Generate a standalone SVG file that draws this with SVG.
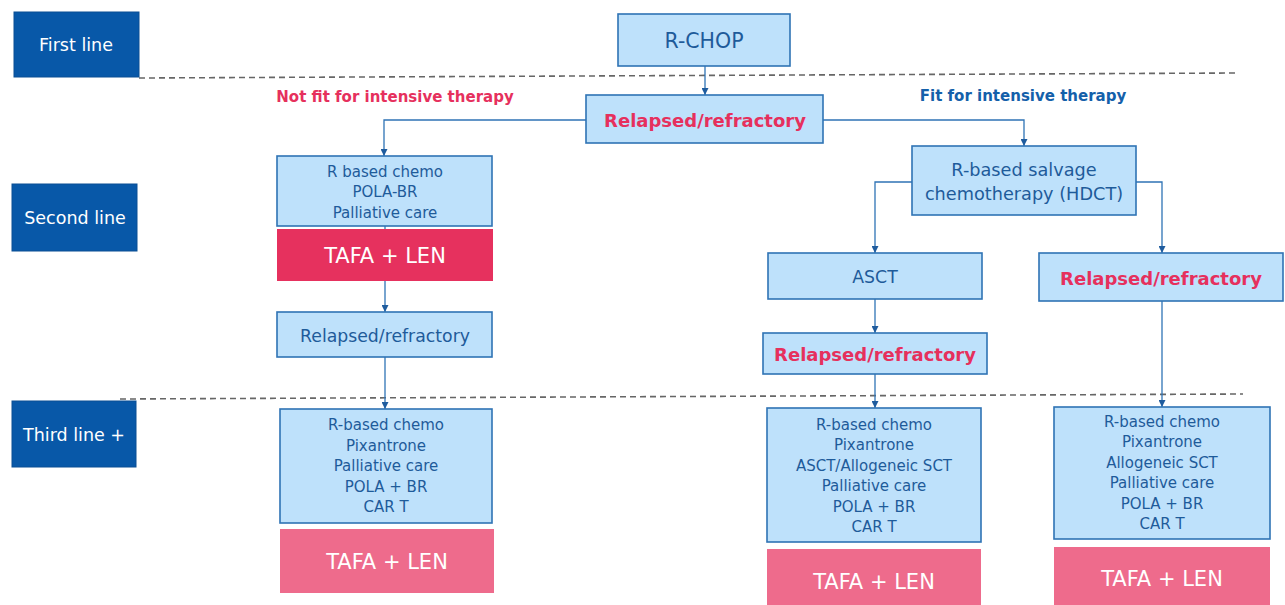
<svg xmlns="http://www.w3.org/2000/svg" width="1285" height="605" viewBox="0 0 1285 605">
<defs>
<style>
text{font-family:"DejaVu Sans","Verdana",sans-serif;text-anchor:middle;dominant-baseline:central}
.lbl rect{fill:#0858A8;stroke:#0A4F94;stroke-width:1}
.lbl text{fill:#fff;font-size:17.5px}
.bx{fill:#BEE1FB;stroke:#2F73B5;stroke-width:1.6}
.bt{fill:#1E5B9A;font-size:15px}
.pk{fill:#E6305D;font-weight:bold;font-size:18px}
.tafa1{fill:#E6315E}
.tafa2{fill:#EE6B8C}
.tt{fill:#fff;font-size:21px}
.cn{fill:none;stroke:#2F73B5;stroke-width:1.3}
.dash{stroke:#666;stroke-width:1.6;stroke-dasharray:6 4;fill:none}
</style>
<marker id="ah" viewBox="0 0 10 10" refX="10" refY="5" markerWidth="7" markerHeight="7" markerUnits="userSpaceOnUse" orient="auto">
<path d="M0,0 L10,5 L0,10 z" fill="#1F5C9E"/>
</marker>
</defs>
<rect width="1285" height="605" fill="#fff"/>

<g id="dividers">
<line class="dash" x1="139" y1="78" x2="1238" y2="73"/>
<line class="dash" x1="120" y1="399" x2="1243" y2="394"/>
</g>

<g id="connectors">
<path class="cn" d="M705,66 V95" marker-end="url(#ah)"/>
<path class="cn" d="M586,120 H384 V156" marker-end="url(#ah)"/>
<path class="cn" d="M823,120 H1024 V146" marker-end="url(#ah)"/>
<path class="cn" d="M385,226 V229"/>
<path class="cn" d="M385,281 V312" marker-end="url(#ah)"/>
<path class="cn" d="M385,357 V409" marker-end="url(#ah)"/>
<path class="cn" d="M912,182 H875 V253" marker-end="url(#ah)"/>
<path class="cn" d="M1136,182 H1162 V253" marker-end="url(#ah)"/>
<path class="cn" d="M875,299 V333" marker-end="url(#ah)"/>
<path class="cn" d="M875,374 V408" marker-end="url(#ah)"/>
<path class="cn" d="M1162,301 V407" marker-end="url(#ah)"/>
</g>

<g id="label-first" class="lbl"><rect x="14" y="12" width="125" height="65"/><text x="76" y="45">First line</text></g>
<g id="label-second" class="lbl"><rect x="12" y="184" width="125" height="67"/><text x="75" y="218">Second line</text></g>
<g id="label-third" class="lbl"><rect x="12" y="401" width="124" height="66"/><text x="74" y="435">Third line +</text></g>

<g id="rchop"><rect class="bx" x="618" y="14" width="172" height="52"/><text class="bt" x="704" y="41" style="font-size:20.5px">R-CHOP</text></g>

<g id="rr-top"><rect class="bx" x="586" y="95" width="237" height="48"/><text class="pk" x="705" y="120">Relapsed/refractory</text></g>

<g id="label-notfit"><text class="pk" x="395" y="97" style="font-size:15px">Not fit for intensive therapy</text></g>
<g id="label-fit"><text x="1023" y="96" font-weight="bold" fill="#1460AA" style="font-size:15px">Fit for intensive therapy</text></g>

<g id="second-left">
<rect class="bx" x="277" y="156" width="215" height="70"/>
<text class="bt" x="385" y="172">R based chemo</text>
<text class="bt" x="385" y="192">POLA-BR</text>
<text class="bt" x="385" y="213">Palliative care</text>
</g>
<g id="tafa-second"><rect class="tafa1" x="277" y="229" width="216" height="52"/><text class="tt" x="385" y="256">TAFA + LEN</text></g>

<g id="rr-left"><rect class="bx" x="277" y="312" width="215" height="45"/><text class="bt" x="385" y="336" style="font-size:17.3px">Relapsed/refractory</text></g>

<g id="third-left">
<rect class="bx" x="280" y="409" width="212" height="114"/>
<text class="bt" x="386" y="425">R-based chemo</text>
<text class="bt" x="386" y="446">Pixantrone</text>
<text class="bt" x="386" y="466">Palliative care</text>
<text class="bt" x="386" y="487">POLA + BR</text>
<text class="bt" x="386" y="507">CAR T</text>
</g>
<g id="tafa-third-left"><rect class="tafa2" x="280" y="529" width="214" height="64"/><text class="tt" x="387" y="562">TAFA + LEN</text></g>

<g id="salvage">
<rect class="bx" x="912" y="146" width="224" height="69"/>
<text class="bt" x="1024" y="170" style="font-size:17.7px">R-based salvage</text>
<text class="bt" x="1024" y="194" style="font-size:17.7px">chemotherapy (HDCT)</text>
</g>

<g id="asct"><rect class="bx" x="768" y="253" width="214" height="46"/><text class="bt" x="875" y="277" style="font-size:17.3px">ASCT</text></g>

<g id="rr-right"><rect class="bx" x="1039" y="253" width="244" height="48"/><text class="pk" x="1161" y="278">Relapsed/refractory</text></g>

<g id="rr-mid"><rect class="bx" x="763" y="333" width="224" height="41"/><text class="pk" x="875" y="354">Relapsed/refractory</text></g>

<g id="third-mid">
<rect class="bx" x="767" y="408" width="214" height="134"/>
<text class="bt" x="874" y="425">R-based chemo</text>
<text class="bt" x="874" y="445">Pixantrone</text>
<text class="bt" x="874" y="466">ASCT/Allogeneic SCT</text>
<text class="bt" x="874" y="486">Palliative care</text>
<text class="bt" x="874" y="507">POLA + BR</text>
<text class="bt" x="874" y="527">CAR T</text>
</g>
<g id="tafa-third-mid"><rect class="tafa2" x="767" y="549" width="214" height="60"/><text class="tt" x="874" y="582">TAFA + LEN</text></g>

<g id="third-right">
<rect class="bx" x="1054" y="407" width="216" height="132"/>
<text class="bt" x="1162" y="422">R-based chemo</text>
<text class="bt" x="1162" y="442">Pixantrone</text>
<text class="bt" x="1162" y="463">Allogeneic SCT</text>
<text class="bt" x="1162" y="483">Palliative care</text>
<text class="bt" x="1162" y="504">POLA + BR</text>
<text class="bt" x="1162" y="524">CAR T</text>
</g>
<g id="tafa-third-right"><rect class="tafa2" x="1054" y="547" width="216" height="60"/><text class="tt" x="1162" y="579">TAFA + LEN</text></g>
</svg>
